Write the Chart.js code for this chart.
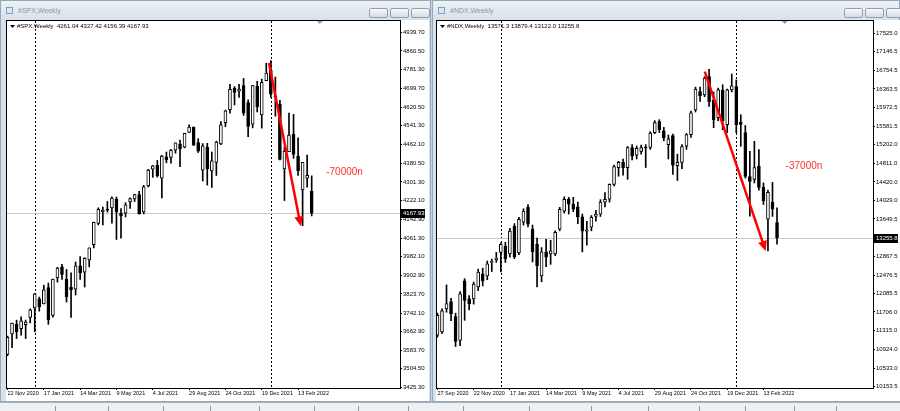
<!DOCTYPE html>
<html>
<head>
<meta charset="utf-8">
<script src="https://cdn.jsdelivr.net/npm/chart.js@4.4.1/dist/chart.umd.min.js"></script>
<style>
  html, body { margin: 0; padding: 0; }
  body { width: 900px; height: 411px; overflow: hidden; position: relative; background: #c7d2de; font-family: "Liberation Sans", Arial, sans-serif; }
  .win { position: absolute; top: 0; height: 402px; background: #d8e1eb; border: 1px solid #98a8bb; box-sizing: border-box; }
  .title { position: absolute; left: 0; right: 0; top: 0; height: 19px; background: linear-gradient(#eef2f6, #d9e0e8); }
  .ttext { position: absolute; left: 17px; top: 6px; font-size: 7px; color: #8d97a3; }
  .icon { position: absolute; left: 5px; top: 6px; width: 7px; height: 7px; border: 1px solid #7f9fc6; background: #dbe8f6; box-sizing: border-box; }
  .btn { position: absolute; top: 7px; width: 19px; height: 10px; border: 1px solid #92a0b1; border-radius: 2px; background: linear-gradient(#f7f8fa, #d6dce4); box-sizing: border-box; }
  canvas { position: absolute; background: #fff; }
  .tabs { position: absolute; left: 0; top: 402px; width: 900px; height: 9px; background: #eef0f3; border-top: 1px solid #a7b1bd; box-sizing: border-box; }
  .tab { position: absolute; top: 3px; width: 1px; height: 6px; background: #8f99a5; }
</style>
</head>
<body>
<div class="win" style="left:0;width:431px;">
  <div class="title"><div class="icon"></div><div class="ttext">#SPX,Weekly</div>
    <div class="btn" style="left:368px"></div><div class="btn" style="left:389px"></div><div class="btn" style="left:410px"></div>
  </div>
</div>
<div class="win" style="left:432px;width:468px;">
  <div class="title"><div class="icon"></div><div class="ttext">#NDX,Weekly</div>
    <div class="btn" style="left:411px"></div><div class="btn" style="left:432px"></div><div class="btn" style="left:453px"></div>
  </div>
</div>
<canvas id="spx" width="423" height="381" style="left:6px;top:20px;"></canvas>
<canvas id="ndx" width="464" height="381" style="left:436px;top:20px;"></canvas>
<div class="tabs" id="tabs"></div>

<script>
// ---- S&P 500 weekly bars (22 Nov 2020 .. 6 Mar 2022) ----
const spxOpen = [3566,3653,3694,3675,3693,3723,3764,3803,3781,3851,3732,3892,3939,3886,3852,3844,3943,3916,3969,4034,
  4124,4175,4185,4191,4228,4169,4168,4216,4229,4248,4173,4284,4356,4372,4318,4409,4406,4437,4463,4450,
  4513,4535,4469,4352,4450,4348,4385,4464,4554,4610,4701,4689,4712,4640,4548,4710,4587,4733,4778,4669,
  4632,4357,4431,4505,4412,4267,4318,4261.04];
const spxHigh = [3644,3699,3712,3726,3712,3760,3826,3810,3861,3870,3887,3937,3950,3928,3914,3960,3983,3978,4020,4130,
  4191,4194,4218,4238,4237,4188,4213,4234,4249,4261,4287,4355,4372,4393,4415,4429,4441,4468,4480,4509,
  4545,4536,4486,4465,4466,4429,4475,4559,4608,4718,4708,4718,4743,4652,4713,4731,4740,4808,4819,4749,
  4650,4453,4595,4590,4490,4385,4416,4327.42];
const spxLow = [3560,3594,3633,3648,3633,3700,3662,3750,3781,3694,3725,3874,3885,3789,3723,3819,3885,3853,3939,4020,
  4118,4118,4173,4125,4056,4062,4152,4188,4218,4164,4165,4280,4321,4322,4233,4383,4381,4424,4367,4447,
  4513,4457,4427,4305,4288,4278,4329,4460,4537,4595,4630,4662,4585,4495,4532,4600,4531,4733,4662,4582,
  4395,4222,4431,4402,4329,4115,4279,4156.39];
const spxClose = [3638,3699,3663,3709,3703,3756,3824,3768,3841,3714,3887,3934,3907,3811,3841,3943,3913,3975,4020,4129,
  4185,4180,4181,4233,4174,4156,4204,4230,4247,4166,4281,4352,4370,4327,4412,4395,4437,4468,4442,4509,
  4535,4458,4433,4455,4357,4391,4471,4545,4605,4697,4683,4698,4595,4538,4712,4621,4726,4766,4677,4663,
  4398,4432,4501,4419,4349,4385,4330,4167.93];
const spxDates = ['22 Nov 2020','17 Jan 2021','14 Mar 2021','9 May 2021','4 Jul 2021','29 Aug 2021','24 Oct 2021','19 Dec 2021','13 Feb 2022'];
const spxPriceTicks = [3425.30,3504.50,3583.70,3662.90,3742.10,3823.70,3902.90,3982.10,4061.30,4142.90,
  4222.10,4301.30,4380.50,4462.10,4541.30,4620.50,4699.70,4781.30,4860.50,4939.70];

// ---- Nasdaq 100 weekly bars (27 Sep 2020 .. 6 Mar 2022) ----
const ndxOpen = [11220,11290,11770,11920,11610,11110,12355,11980,11980,12230,12500,12460,12740,12800,12950,13080,12920,13500,12940,13580,
  13890,13435,13120,12460,12960,12920,12920,13435,13810,14060,13955,13900,13690,13395,13475,13700,13750,14000,14060,14370,
  14720,14830,14720,15140,14980,15060,15140,15140,15450,15683,15490,15200,15387,14760,14830,15165,15408,15926,16305,16238,
  16618,16134,15760,16340,15615,16342,16410,15663,15449,14535,14473,14750,14307,13643,14002,13571.3];
const ndxHigh = [11680,11770,12270,11990,11680,12130,12400,12050,12330,12600,12620,12770,12810,12950,13150,13160,13450,13550,13680,13860,
  13950,13520,13250,13050,13220,13200,13400,13890,14110,14100,14100,14000,13750,13600,13720,13830,14050,14200,14380,14770,
  14850,14900,15160,15200,15170,15190,15200,15470,15700,15720,15560,15400,15420,15000,15200,15430,15900,16400,16400,16620,
  16771,16300,16380,16450,16360,16674,16550,15823,15600,15061,15268,15096,14400,14250,14411,13879.4];
const ndxLow = [11180,11250,11700,11525,10985,11000,11531,11750,11870,12150,12250,12380,12550,12740,12540,12740,12850,12820,12900,13520,
  13480,12750,12230,12335,12650,12700,12880,13400,13770,13750,13800,13550,12960,13100,13400,13600,13700,13900,14000,14340,
  14540,14560,14475,14880,14900,15000,14722,15100,15430,15450,15280,14900,14577,14450,14700,15100,15350,15880,16100,16200,
  16000,15553,15700,15511,15450,16300,15449,15165,14500,13705,14400,14250,13950,12979,13700,13122.0];
const ndxClose = [11635,11730,11880,11670,11090,12085,11947,11880,12290,12540,12355,12710,12760,12830,13120,12812,13395,12860,13640,13810,
  13540,12960,12670,12960,12850,12980,13370,13850,14060,13955,13850,13690,13395,13420,13680,13750,14000,14060,14370,14740,
  14830,14720,15140,14960,15120,15140,15130,15440,15660,15511,15340,15320,14770,14830,15160,15408,15864,16362,16217,16591,
  16099,15719,16342,15700,16342,16425,15615,15620,14535,14431,14722,14307,14023,14203,13850,13255.8];
const ndxDates = ['27 Sep 2020','22 Nov 2020','17 Jan 2021','14 Mar 2021','9 May 2021','4 Jul 2021','29 Aug 2021','24 Oct 2021','19 Dec 2021','13 Feb 2022'];
const ndxPriceTicks = [10153.5,10533.0,10924.0,11315.0,11706.0,12085.5,12476.5,12867.5,13649.5,14029.0,
  14420.0,14811.0,15202.0,15581.5,15972.5,16363.5,16754.5,17146.5,17525.0];

// MT4 decorations: frame, period separators, bid line, header, arrow, note
const mt4Plugin = {
  id: 'mt4',
  beforeDatasetsDraw(chart, args, o) {
    const {ctx, chartArea: a, scales: {x, y}} = chart;
    ctx.save();
    ctx.strokeStyle = '#000';
    ctx.lineWidth = 1;
    ctx.setLineDash([2, 2]);
    o.separators.forEach(i => {
      const px = Math.round(x.getPixelForValue(i)) + 0.5;
      ctx.beginPath(); ctx.moveTo(px, a.top); ctx.lineTo(px, a.bottom); ctx.stroke();
    });
    ctx.setLineDash([]);
    const py = Math.round(y.getPixelForValue(o.last)) + 0.5;
    ctx.strokeStyle = '#c8c8c8';
    ctx.beginPath(); ctx.moveTo(a.left, py); ctx.lineTo(a.right, py); ctx.stroke();
    ctx.restore();
  },
  afterDraw(chart, args, o) {
    const {ctx, chartArea: a, scales: {x, y}} = chart;
    ctx.save();
    // plot frame
    ctx.strokeStyle = '#000';
    ctx.lineWidth = 1;
    ctx.strokeRect(Math.round(a.left) - 0.5, Math.round(a.top) - 0.5, Math.round(a.right - a.left) + 1, Math.round(a.bottom - a.top) + 1);
    // chart shift marker
    const sx = x.getPixelForValue(o.shift);
    ctx.fillStyle = '#9a9a9a';
    ctx.beginPath(); ctx.moveTo(sx - 3, a.top); ctx.lineTo(sx + 3, a.top); ctx.lineTo(sx, a.top + 3); ctx.closePath(); ctx.fill();
    // header
    ctx.fillStyle = '#000';
    ctx.beginPath(); ctx.moveTo(a.left + 3, a.top + 4); ctx.lineTo(a.left + 8, a.top + 4); ctx.lineTo(a.left + 5.5, a.top + 7); ctx.closePath(); ctx.fill();
    ctx.font = '6px "Liberation Sans", Arial, sans-serif';
    ctx.textBaseline = 'middle';
    ctx.textAlign = 'left';
    ctx.fillText(o.header, a.left + 10, a.top + 5);
    // price label on the axis
    const py = Math.round(y.getPixelForValue(o.last));
    ctx.fillStyle = '#000';
    ctx.fillRect(a.right + 1, py - 4, o.tagWidth, 9);
    ctx.fillStyle = '#fff';
    ctx.fillText(o.lastText, a.right + 3, py + 0.5);
    // red arrow
    const x0 = x.getPixelForValue(o.arrow[0]), y0 = y.getPixelForValue(o.arrow[1]);
    const x1 = x.getPixelForValue(o.arrow[2]), y1 = y.getPixelForValue(o.arrow[3]);
    const ang = Math.atan2(y1 - y0, x1 - x0);
    ctx.strokeStyle = '#ff0000';
    ctx.fillStyle = '#ff0000';
    ctx.lineWidth = 2.5;
    ctx.beginPath(); ctx.moveTo(x0, y0); ctx.lineTo(x1 - 6 * Math.cos(ang), y1 - 6 * Math.sin(ang)); ctx.stroke();
    ctx.beginPath();
    ctx.moveTo(x1, y1);
    ctx.lineTo(x1 - 10 * Math.cos(ang) + 4.5 * Math.sin(ang), y1 - 10 * Math.sin(ang) - 4.5 * Math.cos(ang));
    ctx.lineTo(x1 - 10 * Math.cos(ang) - 4.5 * Math.sin(ang), y1 - 10 * Math.sin(ang) + 4.5 * Math.cos(ang));
    ctx.closePath(); ctx.fill();
    // note
    ctx.fillStyle = '#ff3030';
    ctx.font = '10px "Liberation Sans", Arial, sans-serif';
    ctx.fillText(o.note, x.getPixelForValue(o.notePos[0]), y.getPixelForValue(o.notePos[1]));
    ctx.restore();
  }
};

function makeCandles(id, d) {
  const body = [], wick = [], fill = [];
  d.open.forEach((op, i) => {
    body.push({x: i, y: [op, d.close[i]]});
    wick.push({x: i, y: [d.low[i], d.high[i]]});
    fill.push(d.close[i] >= op ? '#ffffff' : '#000000');
  });
  const labelIdx = d.dates.map((s, i) => i * 8);
  const font = {family: '"Liberation Sans", Arial, sans-serif'};
  return new Chart(document.getElementById(id), {
    type: 'bar',
    data: {
      datasets: [
        {data: body, backgroundColor: fill, borderColor: '#000', borderWidth: 1, borderSkipped: false,
         barThickness: 3, minBarLength: 1, grouped: false, order: 0},
        {data: wick, backgroundColor: '#000', borderWidth: 0, barThickness: 1, grouped: false, order: 1}
      ]
    },
    options: {
      responsive: false,
      animation: false,
      devicePixelRatio: 1,
      layout: {padding: {left: 1, top: 1, right: 0, bottom: 0}},
      plugins: {
        legend: {display: false},
        tooltip: {enabled: false},
        mt4: d.deco
      },
      scales: {
        x: {
          type: 'linear', position: 'bottom', min: d.xMin, max: d.xMax, offset: false,
          afterBuildTicks: s => { s.ticks = labelIdx.map(v => ({value: v})); },
          afterFit: s => { s.height = 13; s.paddingLeft = 0; s.paddingRight = 0; },
          grid: {drawOnChartArea: false, offset: false, color: '#000', tickLength: 2},
          border: {display: true, color: '#000'},
          ticks: {autoSkip: false, maxRotation: 0, align: 'start', padding: 0, color: '#000',
                  font: {...font, size: 5.5}, callback: (v, i) => d.dates[i]}
        },
        y: {
          type: 'linear', position: 'right', min: d.yMin, max: d.yMax,
          afterBuildTicks: s => { s.ticks = d.priceTicks.map(v => ({value: v})); },
          afterFit: s => { s.width = d.axisWidth; s.paddingTop = 0; s.paddingBottom = 0; },
          grid: {drawOnChartArea: false, color: '#000', tickLength: 2},
          border: {display: true, color: '#000'},
          ticks: {autoSkip: false, padding: 1, color: '#000', font: {...font, size: 6},
                  callback: v => v.toFixed(d.decimals)}
        }
      }
    },
    plugins: [mt4Plugin]
  });
}

makeCandles('spx', {
  open: spxOpen, high: spxHigh, low: spxLow, close: spxClose,
  dates: spxDates, priceTicks: spxPriceTicks, decimals: 2,
  xMin: -0.11, xMax: 86.45, yMin: 3422.3, yMax: 4988, axisWidth: 29,
  deco: {
    separators: [6, 58], last: 4167.93, lastText: '4167.93', tagWidth: 24, shift: 68.8,
    header: '#SPX,Weekly  4261.04 4327.42 4156.39 4167.93',
    arrow: [57.6, 4809, 64.6, 4112], note: '-70000n', notePos: [70.2, 4344]
  }
});

makeCandles('ndx', {
  open: ndxOpen, high: ndxHigh, low: ndxLow, close: ndxClose,
  dates: ndxDates, priceTicks: ndxPriceTicks, decimals: 1,
  xMin: -0.1, xMax: 96.2, yMin: 10118, yMax: 17781, axisWidth: 27,
  deco: {
    separators: [14, 66], last: 13255.8, lastText: '13255.8', tagWidth: 24, shift: 76.7,
    header: '#NDX,Weekly  13571.3 13879.4 13122.0 13255.8',
    arrow: [59.05, 16725, 72.5, 12978], note: '-37000n', notePos: [76.9, 14741]
  }
});

// bottom tab strip separators
const tabEdges = [55, 108, 163, 210, 259, 314, 358, 408, 463, 529, 591, 648, 699, 745, 794, 836];
const tabs = document.getElementById('tabs');
tabEdges.forEach(px => {
  const t = document.createElement('div');
  t.className = 'tab';
  t.style.left = px + 'px';
  tabs.appendChild(t);
});
</script>
</body>
</html>
